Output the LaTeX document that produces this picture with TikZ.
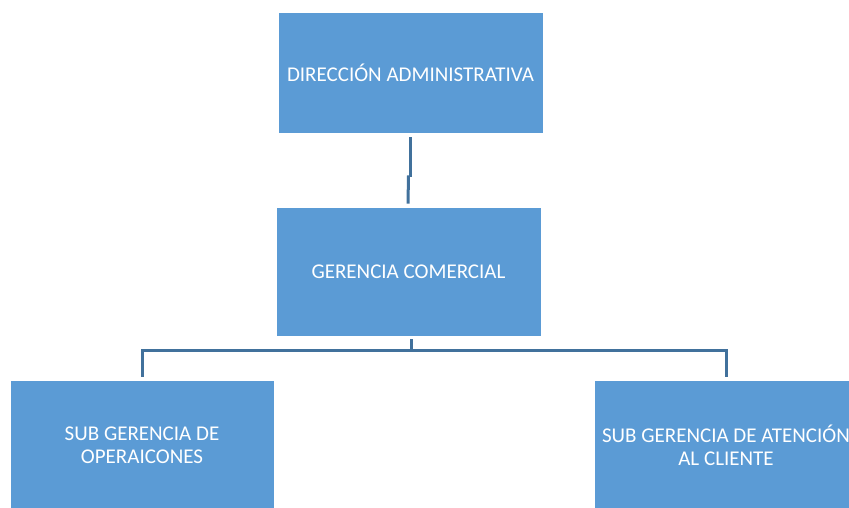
\documentclass[tikz,border=0pt]{standalone}
\usepackage{fontspec}
\setmainfont{Carlito}
\definecolor{boxblue}{HTML}{5B9BD5}
\definecolor{linkblue}{HTML}{41719C}
\begin{document}
\begin{tikzpicture}[x=1pt,y=-1pt,
  unit/.style={rectangle, fill=boxblue, draw=white, line width=0.8pt,
    inner sep=0pt, text=white, align=center,
    font=\fontsize{21}{23}\selectfont},
  conn/.style={draw=linkblue, line width=3pt}]
  \useasboundingbox (0,0) rectangle (849,508);
  \clip (0,0) rectangle (849,508);

  % organisation units
  \node[unit, minimum width=265pt, minimum height=121pt] (dir) at (410.5,72.5)
    {DIRECCIÓN ADMINISTRATIVA};
  \node[unit, minimum width=265pt, minimum height=129pt] (ger) at (408.5,271.5)
    {GERENCIA COMERCIAL};
  \node[unit, minimum width=264pt, minimum height=130pt] (ops) at (142,445)
    {SUB GERENCIA DE\\OPERAICONES};
  \node[unit, minimum width=264pt, minimum height=130pt] (cli) at (726,445)
    {SUB GERENCIA DE ATENCIÓN\\AL CLIENTE};

  % link between direction and management (with its small jog)
  \coordinate (jog) at ([yshift=-44pt]dir.south);
  \draw[conn] ([yshift=-4pt]dir.south) -- (jog);
  \draw[conn] ([xshift=-2pt,yshift=2pt]jog) -- ([xshift=-0.5pt,yshift=3pt]ger.north);

  % branch from management to the two sub-units
  \coordinate (bus) at ([xshift=2.5pt,yshift=-14pt]ger.south);
  \draw[conn] ([xshift=2.5pt,yshift=-3pt]ger.south) -- (bus);
  \draw[conn] ([yshift=3pt]ops.north) |- (bus) -| ([yshift=3pt]cli.north);
\end{tikzpicture}
\end{document}
